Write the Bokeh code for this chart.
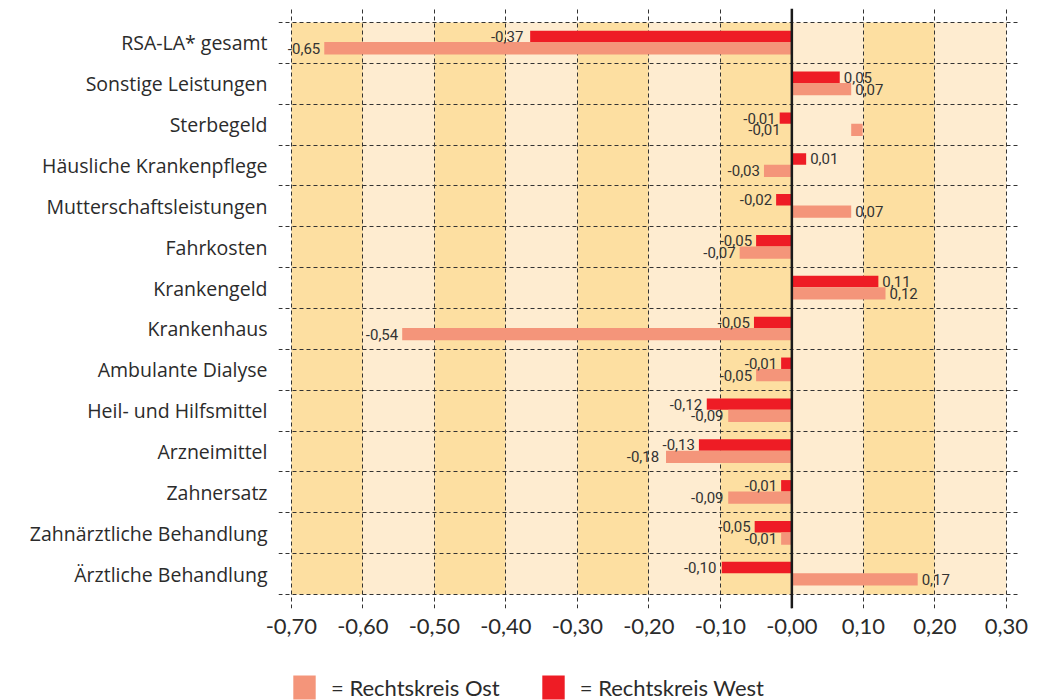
import numpy as np
from bokeh.plotting import figure
from bokeh.layouts import column
from bokeh.models import Range1d, FixedTicker, Span, Legend, LegendItem, ColumnDataSource
from bokeh.core.properties import value
from bokeh.embed import file_html
from bokeh.resources import INLINE

categories = ["RSA-LA* gesamt", "Sonstige Leistungen", "Sterbegeld", "Häusliche Krankenpflege",
              "Mutterschaftsleistungen", "Fahrkosten", "Krankengeld", "Krankenhaus",
              "Ambulante Dialyse", "Heil- und Hilfsmittel", "Arzneimittel", "Zahnersatz",
              "Zahnärztliche Behandlung", "Ärztliche Behandlung"]

# printed values (data labels)
ost_printed = [-0.65, 0.07, -0.01, -0.03, 0.07, -0.07, 0.12, -0.54, -0.05, -0.09, -0.18, -0.09, -0.01, 0.17]
west_printed = [-0.37, 0.05, -0.01, 0.01, -0.02, -0.05, 0.11, -0.05, -0.01, -0.12, -0.13, -0.01, -0.05, -0.10]

# bar extents as drawn in the reference
ost_start = [0, 0, 0.083, 0, 0, 0, 0, 0, 0, 0, 0, 0, 0, 0]
ost_end = [-0.654, 0.083, 0.099, -0.039, 0.083, -0.073, 0.131, -0.545, -0.050, -0.089, -0.176, -0.089, -0.015, 0.176]
west_end = [-0.366, 0.067, -0.017, 0.020, -0.022, -0.050, 0.121, -0.053, -0.015, -0.119, -0.130, -0.015, -0.052, -0.098]

x_ticks = [-0.70, -0.60, -0.50, -0.40, -0.30, -0.20, -0.10, 0.00, 0.10, 0.20, 0.30]
x_tick_labels = ["-0,70", "-0,60", "-0,50", "-0,40", "-0,30", "-0,20", "-0,10", "-0,00", "0,10", "0,20", "0,30"]

series_names = ["= Rechtskreis Ost", "= Rechtskreis West"]

OST_COLOR = "#F4957A"
WEST_COLOR = "#EE1C25"
BAND_DARK = "#FDDFA1"
BAND_LIGHT = "#FEECD0"
TEXT = "#2b2b2b"

n = len(categories)
centers = np.array([n - 0.5 - i for i in range(n)])

p = figure(width=1050, height=650, output_backend="svg", toolbar_location=None,
           x_range=Range1d(-0.718, 0.317), y_range=Range1d(-0.343, n + 0.343),
           min_border_left=278, min_border_right=32, min_border_top=8, min_border_bottom=42)
p.outline_line_color = None
p.background_fill_color = "white"
p.border_fill_color = "white"

# alternating background bands
band_left = x_ticks[:-1]
band_right = x_ticks[1:]
band_colors = [BAND_DARK if i % 2 == 0 else BAND_LIGHT for i in range(len(band_left))]
bands = p.quad(left=band_left, right=band_right, bottom=0, top=n, fill_color=band_colors, line_color=None)
bands.level = "image"

# bars
west_src = ColumnDataSource(dict(y=centers + 0.16, left=[0] * n, right=west_end))
ost_src = ColumnDataSource(dict(y=centers - 0.13, left=ost_start, right=ost_end))
p.hbar(y="y", left="left", right="right", height=0.28, source=west_src,
       fill_color=WEST_COLOR, line_color=None)
p.hbar(y="y", left="left", right="right", height=0.30, source=ost_src,
       fill_color=OST_COLOR, line_color=None)

def fmt(v):
    return f"{v:.2f}".replace(".", ",")

def label_data(printed, end, ys):
    printed = np.array(printed)
    end = np.array(end)
    anchor = np.where(printed < 0, np.minimum(printed, end), end)
    neg = printed < 0
    return dict(x=anchor, y=ys, text=[fmt(v) for v in printed],
                align=["right" if s else "left" for s in neg],
                xoff=[-4 if s else 4 for s in neg])

for printed, end, ys in [(west_printed, west_end, centers + 0.16), (ost_printed, ost_end, centers - 0.13)]:
    src = ColumnDataSource(label_data(printed, end, ys))
    p.text(x="x", y="y", text="text", source=src, text_align="align", x_offset="xoff",
           text_baseline="middle", text_font=value("Roboto"), text_font_size="15px",
           text_color="#333333")

# zero line
p.add_layout(Span(location=0, dimension="height", line_color="#1a1a1a", line_width=2.5))

# grids
p.xgrid.ticker = FixedTicker(ticks=x_ticks)
p.ygrid.ticker = FixedTicker(ticks=list(range(n + 1)))
for g in (p.xgrid, p.ygrid):
    g.grid_line_color = "#333333"
    g.grid_line_dash = "4 3"
    g.grid_line_width = 1
    g.level = "underlay"

# axes
p.xaxis.ticker = FixedTicker(ticks=x_ticks)
p.xaxis.major_label_overrides = {t: l for t, l in zip(x_ticks, x_tick_labels)}
p.yaxis.ticker = FixedTicker(ticks=list(centers))
p.yaxis.major_label_overrides = {float(c): cat for c, cat in zip(centers, categories)}
for ax in (p.xaxis, p.yaxis):
    ax.axis_line_color = None
    ax.major_tick_line_color = None
    ax.minor_tick_line_color = None
    ax.major_tick_out = 0
    ax.major_tick_in = 0
    ax.major_label_text_color = TEXT
p.xaxis.major_label_text_font = "Lato"
p.xaxis.major_label_text_font_size = "22px"
p.xaxis.major_label_standoff = 10
p.yaxis.major_label_text_font = "Open Sans"
p.yaxis.major_label_text_font_size = "19.5px"
p.yaxis.major_label_standoff = 11

# legend strip (shares the bar sources; its view range keeps the bars out of sight)
lg = figure(width=1050, height=50, output_backend="svg", toolbar_location=None,
            x_axis_type=None, y_axis_type=None, min_border=0,
            x_range=Range1d(0, 1), y_range=Range1d(100, 101))
lg.outline_line_color = None
lg.xgrid.visible = False
lg.ygrid.visible = False
lr_ost = lg.hbar(y="y", left="left", right="right", height=0.30, source=ost_src,
                 fill_color=OST_COLOR, line_color=None)
lr_west = lg.hbar(y="y", left="left", right="right", height=0.28, source=west_src,
                  fill_color=WEST_COLOR, line_color=None)
legend = Legend(items=[LegendItem(label=series_names[0], renderers=[lr_ost]),
                       LegendItem(label=series_names[1], renderers=[lr_west])],
                location=(12, -2), orientation="horizontal", glyph_width=28, glyph_height=30,
                label_standoff=13, spacing=39, padding=0, margin=0,
                border_line_color=None, background_fill_alpha=0,
                label_text_font="Lato", label_text_font_size="22px", label_text_color=TEXT,
                label_height=30)
lg.add_layout(legend, "center")

open("out.html", "w").write(file_html(column(p, lg, spacing=0), INLINE))
